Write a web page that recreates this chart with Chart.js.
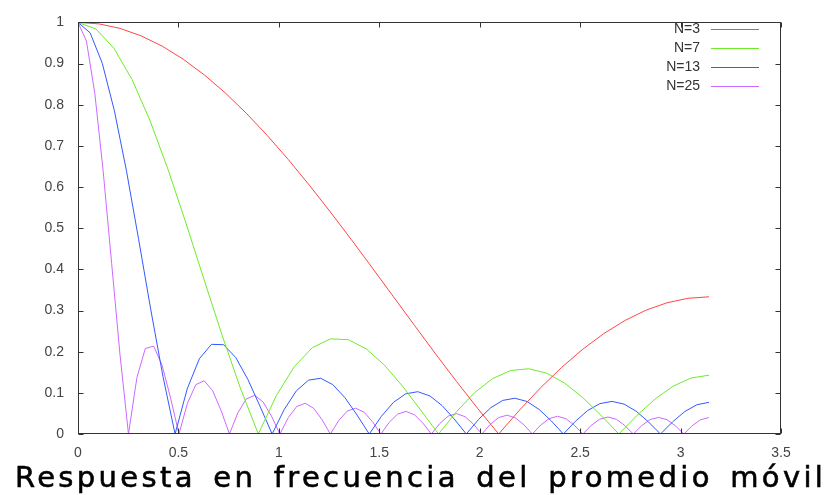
<!DOCTYPE html>
<html>
<head>
<meta charset="utf-8">
<script src="https://cdn.jsdelivr.net/npm/chart.js@4/dist/chart.umd.min.js"></script>
<style>
  html, body { margin: 0; padding: 0; background: #fff; }
  #wrap { width: 831px; height: 495px; position: relative; }
</style>
</head>
<body>
<div id="wrap"><canvas id="myChart" width="831" height="495"></canvas></div>
<script>
// |H(w)| del promedio móvil, muestreado en [0, pi]
const xN3 = [0, .1047, .2094, .3142, .4189, .5236, .6283, .7330, .8378, .9425, 1.0472, 1.1519, 1.2566, 1.3614, 1.4661, 1.5708,
  1.6755, 1.7802, 1.8850, 1.9897, 2.0944, 2.1991, 2.3038, 2.4086, 2.5133, 2.6180, 2.7227, 2.8274, 2.9322, 3.0369, 3.1416];
const yN3 = [1, .99635, .98543, .96737, .94237, .91069, .87268, .82876, .77942, .72519, .66667, .60449, .53935, .47194, .40302, .33333,
  .26365, .19473, .12732, .06217, 0, .05853, .11275, .16209, .20601, .24402, .2757, .30071, .31877, .32968, .33333];

const xN7 = [0, .0898, .1795, .2693, .3590, .4488, .5386, .6283, .7181, .8078, .8976, .9874, 1.0771, 1.1669, 1.2566, 1.3464, 1.4362, 1.5259,
  1.6157, 1.7054, 1.7952, 1.8850, 1.9747, 2.0645, 2.1542, 2.2440, 2.3338, 2.4235, 2.5133, 2.6030, 2.6928, 2.7826, 2.8723, 2.9621, 3.0518, 3.1416];
const yN7 = [1, .98396, .93674, .86099, .76091, .642, .5107, .37401, .23898, .11232, 0, .09316, .16371, .20979, .23115, .22912, .2065, .16724,
  .11617, .05862, 0, .05457, .10061, .13463, .15429, .15856, .14776, .12345, .08829, .0458, 0, .04487, .08474, .11604, .136, .14286];

const xN13 = [0, .0604, .1208, .1812, .2417, .3021, .3625, .4229, .4833, .5437, .6042, .6646, .7250, .7854, .8458, .9062, .9666, 1.0271,
  1.0875, 1.1479, 1.2083, 1.2687, 1.3291, 1.3895, 1.4500, 1.5104, 1.5708, 1.6312, 1.6916, 1.7520, 1.8125, 1.8729, 1.9333, 1.9937, 2.0541,
  2.1145, 2.1749, 2.2354, 2.2958, 2.3562, 2.4166, 2.4770, 2.5374, 2.5979, 2.6583, 2.7187, 2.7791, 2.8395, 2.8999, 2.9604, 3.0208, 3.0812, 3.1416];
const yN13 = [1, .97464, .90087, .78529, .63817, .47232, .30175, .14026, 0, .10962, .18283, .21786, .21693, .18571, .13253, .06724, 0, .05992,
  .10514, .13089, .13541, .11991, .0882, .04598, 0, .04295, .07692, .0976, .10277, .09251, .0691, .03655, 0, .03505, .06356,
  .08159, .08687, .07904, .05965, .03186, 0, .03114, .05697, .07378, .07922, .07269, .0553, .02978, 0, .02956, .05449, .0711, .07692];

const xN25 = [0, .0419, .0838, .1257, .1676, .2094, .2513, .2932, .3351, .3770, .4189, .4608, .5027, .5445, .5864, .6283, .6702, .7121,
  .7540, .7959, .8378, .8796, .9215, .9634, 1.0053, 1.0472, 1.0891, 1.1310, 1.1729, 1.2147, 1.2566, 1.2985, 1.3404, 1.3823, 1.4242,
  1.4661, 1.5080, 1.5499, 1.5917, 1.6336, 1.6755, 1.7174, 1.7593, 1.8012, 1.8431, 1.8850, 1.9268, 1.9687, 2.0106, 2.0525, 2.0944,
  2.1363, 2.1782, 2.2201, 2.2619, 2.3038, 2.3457, 2.3876, 2.4295, 2.4714, 2.5133, 2.5551, 2.5970, 2.6389, 2.6808, 2.7227, 2.7646,
  2.8065, 2.8484, 2.8903, 2.9322, 2.9740, 3.0159, 3.0578, 3.0997, 3.1416];
const yN25 = [1, .95502, .82723, .63703, .41398, .19134, 0, .13691, .20772, .21347, .16661, .08758, 0, .07437, .11985, .12944, .10533, .05738,
  0, .05161, .08517, .09395, .07791, .04317, 0, .04, .06687, .07465, .0626, .03504, 0, .03308, .05577, .06275, .05301,
  .02989, 0, .02859, .04848, .05487, .04661, .02642, 0, .02552, .04349, .04944, .04219, .02401, 0, .02338, .04,
  .04565, .03909, .02233, 0, .02189, .03758, .04302, .03696, .02118, 0, .02089, .03597, .0413, .03558, .02045, 0,
  .02028, .03502, .04032, .03483, .02007, 0, .02002, .03465, .04];

const seriesLabels = ['N=3', 'N=7', 'N=13', 'N=25'];
const seriesColors = ['rgb(255,70,70)', 'rgb(110,235,40)', 'rgb(50,90,255)', 'rgb(205,105,255)'];
const xTicks = [0, 0.5, 1, 1.5, 2, 2.5, 3, 3.5];
const yTicks = [0, 0.1, 0.2, 0.3, 0.4, 0.5, 0.6, 0.7, 0.8, 0.9, 1];
const titleText = 'Respuesta en frecuencia del promedio móvil';

function toPoints(xs, ys) {
    return xs.map((x, i) => ({ x: x, y: ys[i] }));
}

const allX = [xN3, xN7, xN13, xN25];
const allY = [yN3, yN7, yN13, yN25];

const frameColor = '#333';
const tickFont = { family: 'Liberation Sans', size: 14 };

// marco, marcas hacia dentro, leyenda y título
const decor = {
    id: 'decor',
    afterDatasetsDraw(chart) {
        const { ctx, chartArea: a, scales } = chart;
        const L = Math.round(a.left) + 0.5, R = Math.round(a.right) - 0.5;
        const T = Math.round(a.top) + 0.5, B = Math.round(a.bottom) - 0.5;
        ctx.save();
        ctx.strokeStyle = frameColor;
        ctx.lineWidth = 1;
        ctx.strokeRect(L, T, R - L, B - T);
        ctx.beginPath();
        xTicks.forEach(v => {
            const px = Math.round(scales.x.getPixelForValue(v)) + 0.5;
            ctx.moveTo(px, B); ctx.lineTo(px, B - 5);
            ctx.moveTo(px, T); ctx.lineTo(px, T + 5);
        });
        yTicks.forEach(v => {
            const py = Math.round(scales.y.getPixelForValue(v)) + 0.5;
            ctx.moveTo(L, py); ctx.lineTo(L + 5, py);
            ctx.moveTo(R, py); ctx.lineTo(R - 5, py);
        });
        ctx.stroke();

        // leyenda
        ctx.font = '14px "Liberation Sans"';
        ctx.textAlign = 'right';
        ctx.textBaseline = 'middle';
        chart.data.datasets.forEach((ds, i) => {
            const y = 29 + i * 19;
            ctx.fillStyle = '#333';
            ctx.fillText(ds.label, 700, y);
            ctx.strokeStyle = ds.borderColor;
            ctx.beginPath();
            ctx.moveTo(711, y + 0.5);
            ctx.lineTo(759, y + 0.5);
            ctx.stroke();
        });

        // título espaciado de 15 a 823 px
        ctx.fillStyle = '#000';
        ctx.strokeStyle = '#000';
        ctx.lineWidth = 0.6;
        ctx.font = '29px "DejaVu Sans"';
        ctx.textAlign = 'left';
        ctx.textBaseline = 'alphabetic';
        ctx.wordSpacing = '5px';
        ctx.letterSpacing = '0px';
        const w = ctx.measureText(titleText).width;
        ctx.letterSpacing = ((808 - w) / (titleText.length - 1)).toFixed(2) + 'px';
        ctx.fillText(titleText, 15, 487);
        ctx.strokeText(titleText, 15, 487);
        ctx.restore();
    }
};

const ctx = document.getElementById('myChart').getContext('2d');
const myChart = new Chart(ctx, {
    type: 'scatter',
    data: {
        datasets: seriesLabels.map((lab, i) => ({
            label: lab,
            data: toPoints(allX[i], allY[i]),
            showLine: true,
            borderColor: seriesColors[i],
            backgroundColor: seriesColors[i],
            borderWidth: 1,
            pointRadius: 0,
            tension: 0,
            fill: false
        }))
    },
    options: {
        responsive: false,
        animation: false,
        layout: { padding: { left: 0, top: 16, right: 50, bottom: 0 } },
        plugins: { legend: { display: false }, tooltip: { enabled: false } },
        scales: {
            x: {
                type: 'linear',
                min: 0,
                max: 3.5,
                afterFit(s) { s.height = 61; },
                afterBuildTicks(s) { s.ticks = xTicks.map(v => ({ value: v })); },
                grid: { display: false, drawTicks: false },
                border: { display: false },
                ticks: { color: '#444', font: tickFont, padding: 11, maxRotation: 0, callback: v => String(v) }
            },
            y: {
                type: 'linear',
                min: 0,
                max: 1,
                afterFit(s) { s.width = 78; },
                afterBuildTicks(s) { s.ticks = yTicks.map(v => ({ value: v })); },
                grid: { display: false, drawTicks: false },
                border: { display: false },
                ticks: { color: '#444', font: tickFont, padding: 14, callback: v => String(v) }
            }
        }
    },
    plugins: [decor]
});
</script>
</body>
</html>
